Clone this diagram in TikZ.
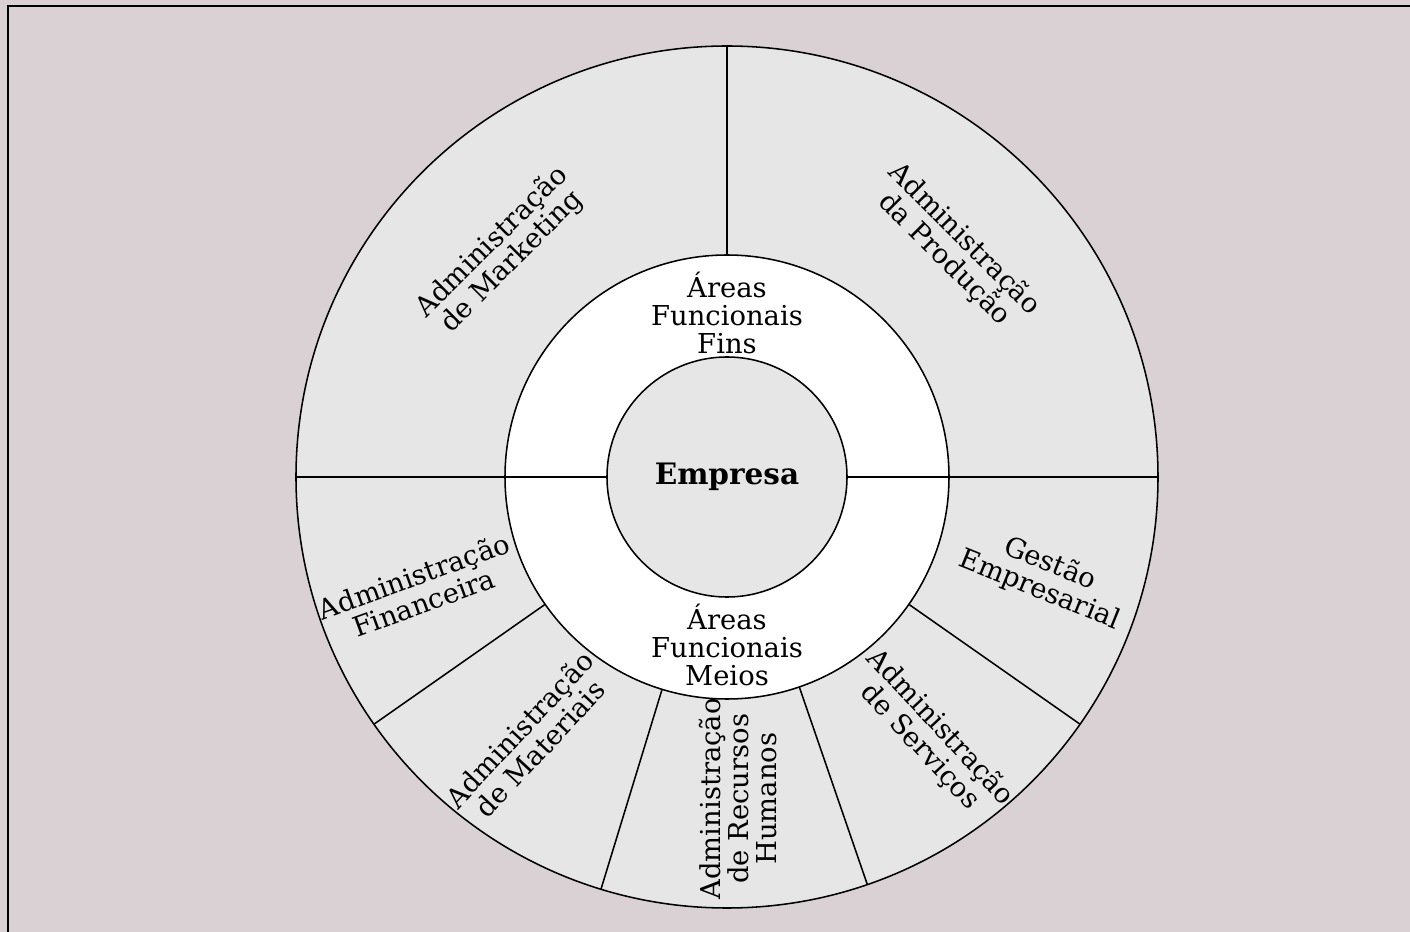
\documentclass[tikz,border=0pt]{standalone}
\usepackage{fontspec}
\setmainfont{DejaVu Serif}
\definecolor{paper}{RGB}{217,209,212}
\definecolor{sector}{RGB}{230,230,230}
\tikzset{
  areatext/.style={align=center, inner sep=0pt, font=\fontsize{19.5}{20}\selectfont},
  rule/.style={black, line width=1.1pt}
}

\begin{document}
\begin{tikzpicture}
                \useasboundingbox (-18.175,-11.375) rectangle (17.075,11.925);
                \fill [paper] (-18.175,-11.375) rectangle (17.075,11.925);
                \draw [black, line width=1.5pt] (-17.975,-11.6) |- (17.3,11.775);
                \filldraw [rule, fill=sector] (0,0) circle (10.775);
                \filldraw [rule, fill=white] (0,0) circle (5.55);
                \filldraw [rule, fill=sector] (0,0) circle (3.0);
                \draw [rule] (90:5.55) -- (90:10.775);
                \draw [rule] (180:3.0) -- (180:10.775);
                \draw [rule] (0:3.0) -- (0:10.775);
                \foreach \a in {215,253,289,325}
                    \draw [rule] (\a:5.55) -- (\a:10.775);
                \node [areatext, font=\fontsize{21}{22}\selectfont\bfseries] (empresa) at (0,0) {Empresa};
                \node [areatext] (fins) at (0,4.1) {Áreas\\Funcionais\\Fins};
                \node [areatext] (meios) at (0,-4.2) {Áreas\\Funcionais\\Meios};
                \node [areatext, rotate=45] (marketing) at (135:7.95) {Administração\\de Marketing};
                \node [areatext, rotate=-45] (producao) at (45:8.05) {Administração\\da Produção};
                \node [areatext, rotate=20] (financeira) at (200:8.2) {Administração\\Financeira};
                \node [areatext, rotate=47] (materiais) at (233:8.2) {Administração\\de Materiais};
                \node [areatext, rotate=90] (recursos) at (272:8.05) {Administração\\de Recursos\\Humanos};
                \node [areatext, rotate=-47] (servicos) at (308:8.25) {Administração\\de Serviços};
                \node [areatext, rotate=-22] (gestao) at (342.5:8.33) {Gestão\\Empresarial};
\end{tikzpicture}
\end{document}
